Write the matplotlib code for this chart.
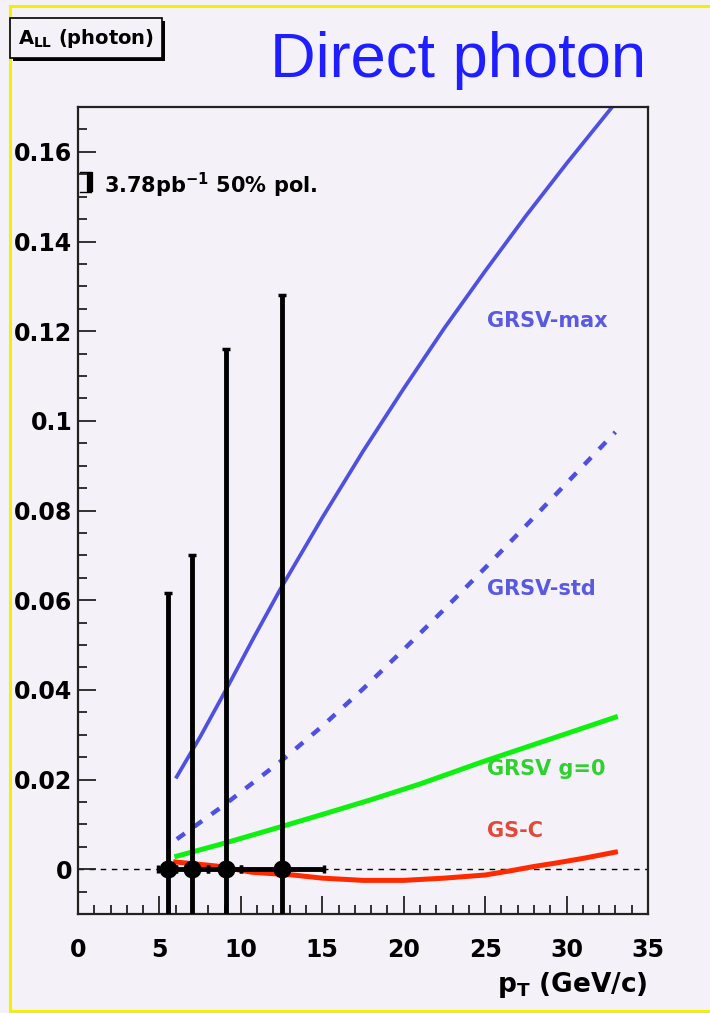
import matplotlib
matplotlib.use("Agg")
import matplotlib.pyplot as plt
from matplotlib.lines import Line2D
from matplotlib.patches import Rectangle
from matplotlib.ticker import MultipleLocator, FixedLocator

# theory curves: A_LL vs pT
pt_max = [6.06, 7.5, 9.13, 10.8, 12.4, 15.0, 17.5, 20.0, 22.5, 25.0, 27.5, 30.0, 33.0]
all_max = [0.0206, 0.0295, 0.0403, 0.0517, 0.0623, 0.0784, 0.0932, 0.1072, 0.1207, 0.1334,
           0.1457, 0.1574, 0.1709]

pt_std = [6.07, 8.9, 12.6, 15.0, 17.5, 20.0, 22.5, 25.0, 27.5, 30.0, 33.0]
all_std = [0.0067, 0.0141, 0.0245, 0.0319, 0.0402, 0.0490, 0.0580, 0.0672, 0.0766, 0.0861, 0.0975]

pt_g0 = [6.07, 9.0, 12.4, 15.0, 18.0, 21.0, 24.8, 28.0, 33.0]
all_g0 = [0.0029, 0.0058, 0.0094, 0.0122, 0.0155, 0.0190, 0.0239, 0.0278, 0.0339]

pt_gsc = [6.0, 8.5, 10.7, 13.2, 15.0, 17.5, 20.0, 22.5, 25.0, 26.5, 28.0, 29.4, 31.0, 33.0]
all_gsc = [0.0016, 0.0007, -0.0007, -0.0013, -0.0020, -0.0025, -0.0025, -0.0020, -0.0013,
           -0.0004, 0.0006, 0.0014, 0.0024, 0.0038]

# projected data points
pt_pts = [5.52, 7.0, 9.08, 12.5]
all_pts = [0.0, 0.0, 0.0, 0.0]
err_y = [0.0615, 0.070, 0.116, 0.128]
err_x_lo = [0.6, 1.0, 1.08, 2.5]
err_x_hi = [0.48, 1.0, 0.92, 2.6]

x_ticks = [0, 5, 10, 15, 20, 25, 30, 35]
y_ticks = [0, 0.02, 0.04, 0.06, 0.08, 0.1, 0.12, 0.14, 0.16]
y_tick_labels = ["0", "0.02", "0.04", "0.06", "0.08", "0.1", "0.12", "0.14", "0.16"]

bg = "#f4f2f8"
c_blue = "#5050e0"
c_green = "#10f010"
c_red = "#ff2a00"

W, H = 710, 1013
fig = plt.figure(figsize=(W / 100, H / 100), dpi=100, facecolor=bg)
ax = fig.add_axes([78 / W, (H - 914) / H, 570 / W, 807 / H], facecolor=bg)

ax.axhline(0, color="black", lw=1.0, dashes=(4, 4), zorder=1)

ax.plot(pt_max, all_max, color=c_blue, lw=2.7, zorder=2)
ax.plot(pt_std, all_std, color=c_blue, lw=3.2, dashes=(2.2, 2.6), zorder=2)
ax.plot(pt_g0, all_g0, color=c_green, lw=3.6, zorder=2)
ax.plot(pt_gsc, all_gsc, color=c_red, lw=3.6, zorder=2)

ax.errorbar(pt_pts, all_pts, yerr=err_y, xerr=[err_x_lo, err_x_hi], fmt="o",
            color="black", ms=12, elinewidth=3.5, capsize=3, capthick=2.5, zorder=4)

# luminosity / polarisation marker
ax.plot([0.12, 0.8], [0.1555, 0.1555], color="black", lw=1.0)
ax.plot([0.12, 0.8], [0.1510, 0.1510], color="black", lw=1.0)
ax.plot([0.75, 0.75], [0.1510, 0.1555], color="black", lw=4.5, solid_capstyle="butt")
ax.text(1.6, 0.1526, r"3.78pb$^{\mathbf{-1}}$ 50% pol.", fontsize=15, fontweight="bold",
        family="DejaVu Sans", va="center", ha="left")

lab = dict(fontsize=15, fontweight="bold", family="DejaVu Sans", va="center", ha="left")
ax.text(25.1, 0.1222, "GRSV-max", color="#5a5ae0", **lab)
ax.text(25.1, 0.0625, "GRSV-std", color="#5a5ae0", **lab)
ax.text(25.1, 0.0223, "GRSV g=0", color="#30d030", **lab)
ax.text(25.1, 0.0085, "GS-C", color="#e04a3a", **lab)

ax.set_xlim(0, 35)
ax.set_ylim(-0.01, 0.17)
ax.xaxis.set_major_locator(FixedLocator(x_ticks))
ax.xaxis.set_minor_locator(MultipleLocator(1))
ax.yaxis.set_major_locator(FixedLocator(y_ticks))
ax.set_yticklabels(y_tick_labels)
ax.yaxis.set_minor_locator(MultipleLocator(0.005))
ax.tick_params(which="both", direction="in", top=False, right=False, width=1.3, color="#222222")
ax.tick_params(which="major", length=13)
ax.tick_params(which="minor", length=6.5)
ax.tick_params(axis="x", pad=17)
ax.tick_params(axis="y", pad=4)
for t in ax.get_xticklabels() + ax.get_yticklabels():
    t.set_fontsize(17)
    t.set_fontweight("bold")
    t.set_family("DejaVu Sans")
for s in ax.spines.values():
    s.set_linewidth(1.6)
    s.set_color("#222222")

fig.text(648 / W, (H - 985) / H, r"$\mathbf{p_{T}}$ (GeV/c)", fontsize=19, fontweight="bold",
         family="DejaVu Sans", ha="right", va="center")


def fx(x):
    return x / W


def fy(y):
    return (H - y) / H


# title box with drop shadow
fig.patches.append(Rectangle((fx(13), fy(61)), 152 / W, 40 / H, transform=fig.transFigure,
                             facecolor="black", edgecolor="none", zorder=1))
fig.patches.append(Rectangle((fx(10), fy(58)), 152 / W, 40 / H, transform=fig.transFigure,
                             facecolor=bg, edgecolor="black", lw=1.2, zorder=2))
fig.text(fx(86), fy(38), r"$\mathbf{A_{LL}}$ (photon)", fontsize=14, fontweight="bold",
         family="DejaVu Sans", ha="center", va="center", zorder=3)

fig.text(fx(270), fy(77), "Direct photon", fontsize=45.5, family="Liberation Sans",
         color="#1e1eff", ha="left", va="baseline")

# yellow canvas frame
for xs, ys in [([9.5, 9.5], [6, 1011]), ([9.5, W], [6, 6]), ([9.5, W], [1011, 1011])]:
    fig.lines.append(Line2D([fx(v) for v in xs], [fy(v) for v in ys], transform=fig.transFigure,
                            color="#f5f000", lw=2.2))

fig.savefig("out.png", dpi=100, facecolor=bg)
